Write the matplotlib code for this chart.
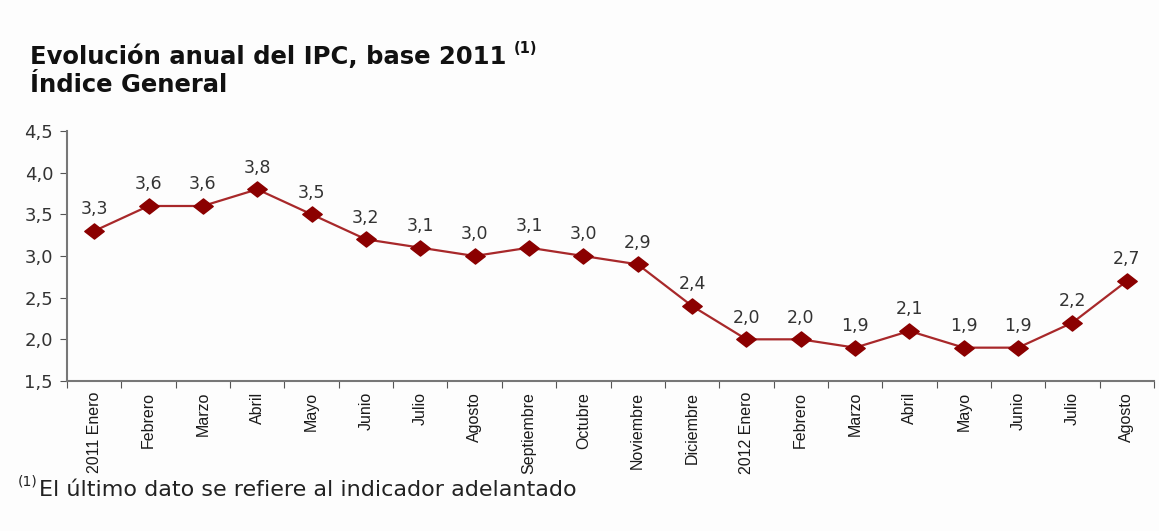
import matplotlib
matplotlib.use("Agg")
import matplotlib.pyplot as plt
from matplotlib.ticker import FixedLocator, NullFormatter, FixedFormatter
from matplotlib.path import Path

months = ["2011 Enero", "Febrero", "Marzo", "Abril", "Mayo", "Junio", "Julio",
          "Agosto", "Septiembre", "Octubre", "Noviembre", "Diciembre",
          "2012 Enero", "Febrero", "Marzo", "Abril", "Mayo", "Junio", "Julio", "Agosto"]
values = [3.3, 3.6, 3.6, 3.8, 3.5, 3.2, 3.1, 3.0, 3.1, 3.0, 2.9, 2.4,
          2.0, 2.0, 1.9, 2.1, 1.9, 1.9, 2.2, 2.7]
yticks = [1.5, 2.0, 2.5, 3.0, 3.5, 4.0, 4.5]

plt.rcParams['font.family'] = ['DejaVu Sans']

fig = plt.figure(figsize=(11.59, 5.31), dpi=100)
fig.patch.set_facecolor('#fdfdfd')
ax = fig.add_axes([0.0578, 0.2825, 0.9379, 0.4708])
ax.set_facecolor('#fdfdfd')

wide_diamond = Path([(-1, 0), (0, 0.78), (1, 0), (0, -0.78), (-1, 0)],
                    [Path.MOVETO, Path.LINETO, Path.LINETO, Path.LINETO, Path.CLOSEPOLY])

x = list(range(len(values)))
ax.plot(x, values, color='#a8282a', lw=1.6, marker=wide_diamond, ms=14,
        markerfacecolor='#8b0000', markeredgecolor='#8b0000', zorder=3)
for xi, v in zip(x, values):
    ax.annotate(f"{v:.1f}".replace('.', ','), (xi, v), xytext=(0, 9),
                textcoords='offset points', ha='center', va='bottom',
                fontsize=12.5, color='#333333')

ax.set_xlim(-0.5, len(values) - 0.5)
ax.set_ylim(1.5, 4.5)
ax.set_yticks(yticks)
ax.set_yticklabels([f"{t:.1f}".replace('.', ',') for t in yticks])
ax.xaxis.set_major_locator(FixedLocator([i - 0.5 for i in range(len(values) + 1)]))
ax.xaxis.set_major_formatter(NullFormatter())
ax.xaxis.set_minor_locator(FixedLocator(x))
ax.xaxis.set_minor_formatter(FixedFormatter(months))
ax.tick_params(axis='x', which='minor', length=0, rotation=90, labelsize=11.5,
               labelcolor='#1a1a1a', pad=8)
ax.tick_params(axis='x', which='major', length=5, direction='out', color='#555555')
ax.tick_params(axis='y', length=5, color='#555555', labelsize=13, labelcolor='#333333', pad=5)
for lbl in ax.xaxis.get_minorticklabels():
    lbl.set_family(['Liberation Sans Narrow', 'Liberation Sans', 'DejaVu Sans'])
    lbl.set_va('top')
for s in ['top', 'right']:
    ax.spines[s].set_visible(False)
for s in ['left', 'bottom']:
    ax.spines[s].set_color('#777777')
    ax.spines[s].set_linewidth(1.5)

t1 = fig.text(0.026, 0.8795, "Evolución anual del IPC, base 2011", fontsize=17.5,
              fontweight='bold', color='#111111', va='baseline')
fig.text(0.026, 0.827, "Índice General", fontsize=17.5, fontweight='bold',
         color='#111111', va='baseline')
fn = fig.text(0.034, 0.066, "El último dato se refiere al indicador adelantado",
              fontsize=16, color='#222222', va='baseline')
fig.text(0.015, 0.086, "(1)", fontsize=10, color='#222222', va='baseline')

renderer = fig.canvas.get_renderer()
bb = t1.get_window_extent(renderer)
fig.text(bb.x1 / fig.bbox.width + 0.006, 0.9, "(1)", fontsize=10.5,
         fontweight='bold', color='#111111', va='baseline')

fig.savefig("out.png", dpi=100, facecolor=fig.get_facecolor())
